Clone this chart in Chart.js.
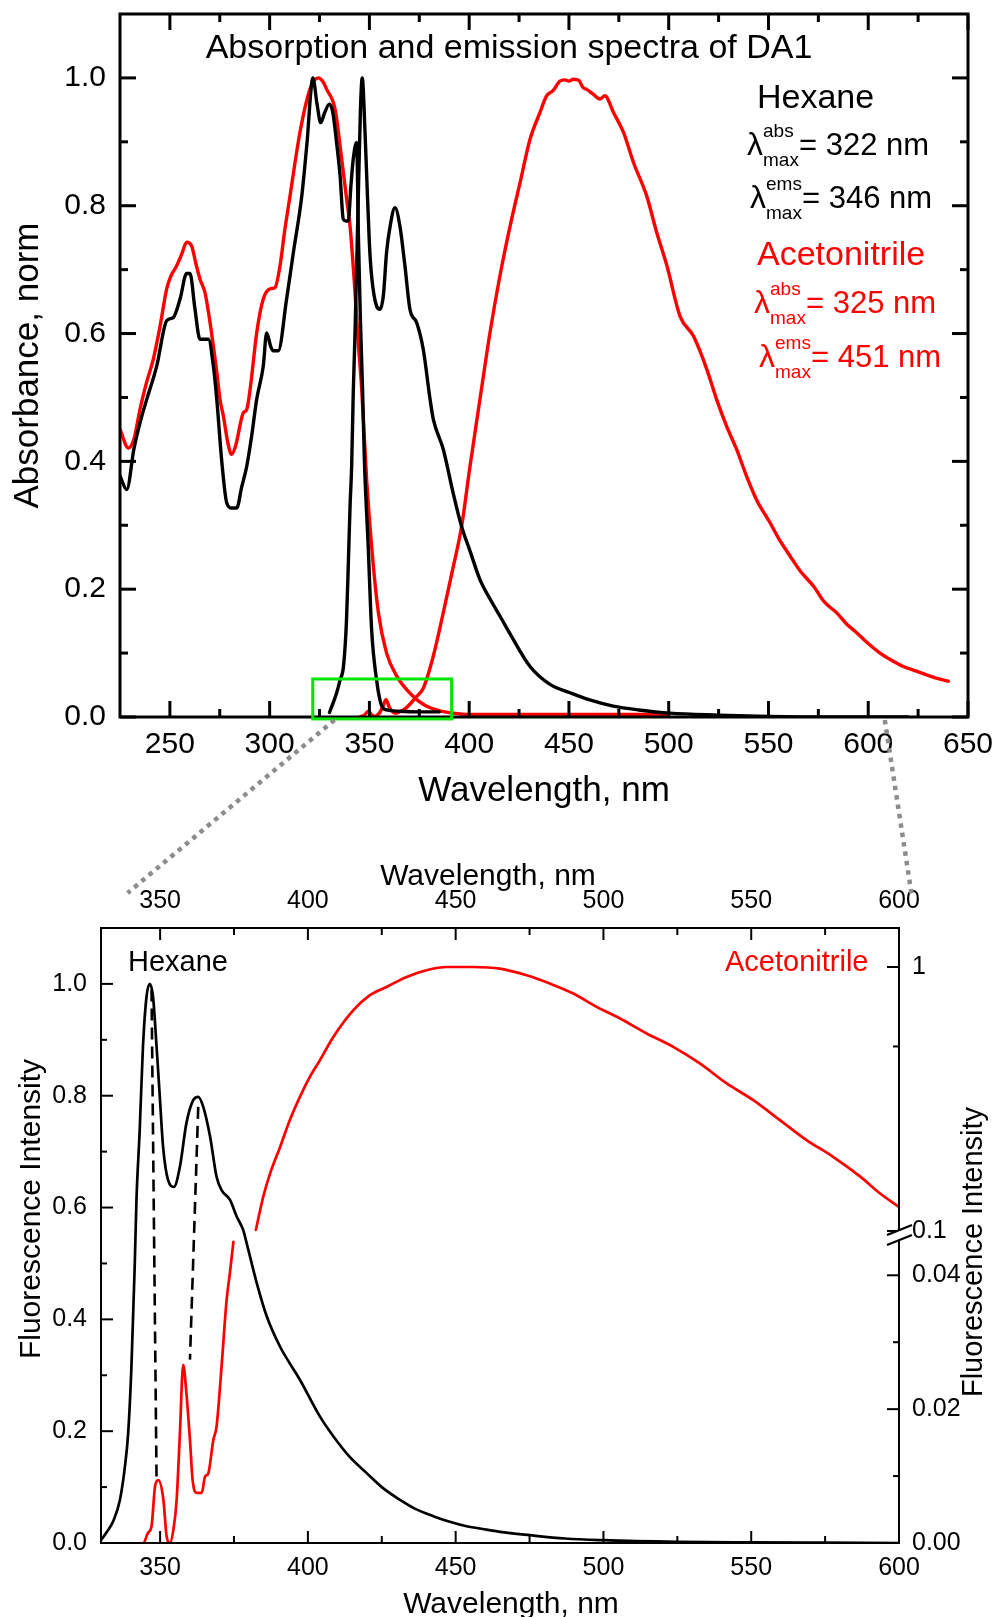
<!DOCTYPE html>
<html><head><meta charset="utf-8">
<script src="https://cdn.jsdelivr.net/npm/chart.js"></script>
<style>
html,body{margin:0;padding:0;background:#fff;}
body{position:relative;width:995px;height:1617px;overflow:hidden;}
canvas{position:absolute;left:0;}
#c1{top:0;}
#c2{top:830px;}
.t{position:absolute;white-space:nowrap;line-height:1;font-family:"Liberation Sans",Arial,sans-serif;}
#ov{position:absolute;left:0;top:0;}
</style></head><body>
<canvas id="c1" width="995" height="830"></canvas>
<canvas id="c2" width="995" height="800"></canvas>
<svg id="ov" width="995" height="1617"></svg>
<script>
// ---------------- DATA (top chart: absorption & emission) ----------------
const hexAbsNm = [225, 228.4, 232, 235, 238.4, 243.4, 248.4, 251.7, 255.1, 258.4, 260.1, 262.5, 265.1, 269.3, 271.8, 273.5, 276, 278.5, 281, 283.5, 286, 288.5, 291, 293.5, 296.8, 298.5, 300.5, 301.8, 304.3, 308.5, 311.9, 316.1, 318.6, 321.7, 323.7, 325.6, 327.5, 329.9, 331.6, 333.5, 335.3, 336.9, 338.2, 339.4, 340.7, 341.9, 343.6, 344.5, 345.5, 346.6, 347.5, 349.4, 351.1, 353.6, 356.2, 358.6, 365, 375, 385];
const hexAbsVal = [0.377, 0.356, 0.42, 0.46, 0.497, 0.549, 0.62, 0.625, 0.654, 0.694, 0.694, 0.64, 0.591, 0.591, 0.549, 0.497, 0.40, 0.335, 0.327, 0.327, 0.36, 0.392, 0.44, 0.497, 0.549, 0.601, 0.58, 0.573, 0.573, 0.654, 0.727, 0.815, 0.894, 1.0, 0.96, 0.93, 0.945, 0.959, 0.947, 0.90, 0.847, 0.779, 0.776, 0.776, 0.83, 0.873, 0.899, 0.75, 0.62, 0.508, 0.4, 0.267, 0.137, 0.058, 0.017, 0.011, 0.009, 0.008, 0.008];

const acnAbsNm = [225, 229.2, 232, 235, 238, 241.7, 245, 248.4, 250.5, 253.4, 256, 258.4, 260.9, 263, 265.1, 267.6, 270, 271.8, 273.5, 275.1, 276.8, 279, 280.9, 283, 286.8, 288.5, 290.5, 293.5, 296.8, 300.2, 302.7, 305.2, 307.5, 310.2, 315.2, 320.2, 324.4, 326.5, 328.6, 332.8, 336.1, 338.6, 340.3, 342.8, 344.4, 346.1, 348.6, 351.1, 354.5, 358.6, 363.7, 372, 378, 385, 392, 400, 450, 500];
const acnAbsVal = [0.45, 0.421, 0.435, 0.481, 0.52, 0.56, 0.61, 0.67, 0.69, 0.706, 0.725, 0.743, 0.737, 0.71, 0.685, 0.664, 0.62, 0.58, 0.54, 0.497, 0.471, 0.43, 0.411, 0.425, 0.476, 0.481, 0.52, 0.601, 0.654, 0.67, 0.672, 0.706, 0.76, 0.815, 0.915, 0.982, 1.0, 0.995, 0.982, 0.951, 0.873, 0.81, 0.768, 0.664, 0.586, 0.515, 0.372, 0.267, 0.163, 0.1, 0.064, 0.032, 0.018, 0.01, 0.006, 0.004, 0.004, 0.004];

const hexEmNm = [330, 333.6, 335.3, 337, 338.5, 339.4, 340.3, 341.1, 341.9, 342.8, 344.4, 345.5, 346.4, 347.8, 348.6, 350, 351.1, 353.6, 355.3, 357, 358.6, 360.5, 362.8, 365.3, 367.8, 370.3, 373.7, 377, 380.4, 382, 387, 392, 396.2, 400.4, 405.4, 410.4, 415.4, 420.5, 430.5, 440.5, 450.5, 460, 472.2, 485, 500.6, 525, 550, 580, 620];
const hexEmVal = [0.007, 0.038, 0.058, 0.079, 0.15, 0.236, 0.33, 0.392, 0.507, 0.601, 0.81, 0.95, 1.0, 0.915, 0.85, 0.74, 0.69, 0.643, 0.638, 0.66, 0.727, 0.77, 0.797, 0.768, 0.706, 0.638, 0.617, 0.575, 0.497, 0.466, 0.419, 0.35, 0.298, 0.26, 0.215, 0.185, 0.158, 0.13, 0.079, 0.051, 0.038, 0.027, 0.017, 0.011, 0.006, 0.003, 0.001, 0, 0];

const acnEmNm = [345.3, 347.5, 349.5, 351, 352.5, 355, 356.7, 358.3, 360, 362.8, 365, 367.5, 370.3, 373, 377, 382, 387, 392.1, 396.2, 400.4, 405.4, 410.4, 415.4, 420.5, 425.5, 430.5, 435.5, 438.8, 442, 445.5, 448, 450, 452.2, 455, 457, 458.9, 462, 465.6, 468, 472.3, 477.3, 482.3, 489, 494, 499.1, 505.7, 512.4, 519.1, 524, 529, 534, 539, 544, 550.8, 555, 560.8, 566, 572.5, 578, 584.2, 589, 594.2, 600, 605.9, 611, 617.6, 623, 629.3, 635, 640.1];
const acnEmVal = [0, 0.003, 0.009, 0.004, 0.001, 0.006, 0.016, 0.027, 0.015, 0.006, 0.008, 0.012, 0.02, 0.03, 0.045, 0.095, 0.163, 0.236, 0.298, 0.392, 0.497, 0.601, 0.69, 0.768, 0.836, 0.904, 0.946, 0.972, 0.98, 0.995, 0.997, 0.995, 0.998, 0.996, 0.985, 0.982, 0.975, 0.967, 0.972, 0.946, 0.915, 0.868, 0.815, 0.758, 0.706, 0.627, 0.596, 0.544, 0.497, 0.455, 0.419, 0.377, 0.34, 0.304, 0.28, 0.252, 0.228, 0.205, 0.18, 0.163, 0.146, 0.132, 0.115, 0.1, 0.09, 0.079, 0.073, 0.066, 0.06, 0.056];

// ---------------- DATA (bottom chart: fluorescence, zoom) ----------------
const hexFlNm = [330, 332, 334.2, 336.4, 338.1, 339.2, 340.3, 341.4, 342, 343.1, 344.2, 345.4, 346.5, 347.6, 348.8, 349.9, 351, 352.7, 354.7, 356.7, 358.9, 361.2, 362.9, 364.6, 366.9, 369.1, 370.8, 373.6, 375.9, 378.1, 379.3, 382.7, 386.1, 390.6, 397.3, 404.1, 408.6, 414, 419.9, 425, 431.2, 436, 442.4, 448, 453.7, 458.2, 465, 475.1, 487, 499.9, 525, 550, 575, 600];
const hexFlVal = [0.005, 0.02, 0.04, 0.077, 0.137, 0.197, 0.316, 0.494, 0.614, 0.739, 0.888, 0.977, 1.0, 0.977, 0.888, 0.798, 0.709, 0.649, 0.637, 0.673, 0.751, 0.792, 0.798, 0.78, 0.727, 0.655, 0.631, 0.614, 0.584, 0.56, 0.536, 0.465, 0.405, 0.351, 0.292, 0.226, 0.191, 0.155, 0.125, 0.1, 0.077, 0.062, 0.048, 0.038, 0.03, 0.026, 0.02, 0.014, 0.008, 0.005, 0.002, 0.001, 0.0005, 0];

const acnLowNm = [344.6, 345.9, 347.1, 348.3, 349.4, 351.1, 352.2, 353.3, 354.5, 355.6, 356.7, 357.8, 358.9, 360.1, 361, 362.4, 364.1, 365.2, 366.3, 368, 369.1, 370.8, 372.5, 373.6, 374.8];
const acnLowVal = [0, 0.0015, 0.0025, 0.0085, 0.0094, 0.0065, 0.001, 0, 0.002, 0.0065, 0.0164, 0.0266, 0.0224, 0.0154, 0.0094, 0.0075, 0.0075, 0.0099, 0.0104, 0.0154, 0.0174, 0.0264, 0.0363, 0.0403, 0.045];

const acnHighNm = [382.4, 384.9, 387.2, 390.6, 393.9, 397.3, 400.7, 404.1, 408.6, 415.4, 421, 426.6, 433.4, 440.1, 446.9, 455.9, 465, 474, 481.9, 489.8, 497.7, 505.6, 514.6, 523.6, 532.6, 541.7, 550.7, 559.7, 568.7, 577.7, 586.8, 593.5, 599.7];
const acnHighVal = [0.101, 0.135, 0.165, 0.208, 0.263, 0.322, 0.384, 0.444, 0.543, 0.686, 0.782, 0.84, 0.917, 0.972, 1.0, 1.0, 0.986, 0.93, 0.865, 0.793, 0.706, 0.638, 0.56, 0.498, 0.431, 0.362, 0.313, 0.263, 0.221, 0.191, 0.161, 0.139, 0.124];

const guide1Nm = [347.1, 348.8];  const guide1Val = [0.99, 0.113];
const guide2Nm = [362.9, 360.1];  const guide2Val = [0.78, 0.328];

// ---------------- TICKS ----------------
const topXTicks = [250, 300, 350, 400, 450, 500, 550, 600, 650];
const topXMinor = [275, 325, 375, 425, 475, 525, 575, 625];
const topYTicks = [0, 0.2, 0.4, 0.6, 0.8, 1.0];
const topYMinor = [0.1, 0.3, 0.5, 0.7, 0.9];
const botXTicks = [350, 400, 450, 500, 550, 600];
const botXMinor = [375, 425, 475, 525, 575];
const botYTicks = [0, 0.2, 0.4, 0.6, 0.8, 1.0];
const botYMinor = [0.1, 0.3, 0.5, 0.7, 0.9];
const lowYTicks = [0, 0.02, 0.04];
const lowYMinor = [0.01, 0.03];
const highYTicks = [0.1, 1];
const highYMinor = [0.5];

// zoom box (data coordinates on the top chart) and connector anchors
const zoomBox = {x1: 321.6, x2: 391.2, y1: 0.0595, y2: -0.003};
const connTop = [332.5, 608.3];
const connBottom = [339, 604.4];

// ---------------- SETUP ----------------
const FONT = "'Liberation Sans', Arial, sans-serif";
const RED = '#ff0000';
Chart.defaults.font.family = FONT;
Chart.defaults.color = '#000';

function pts(xs, ys){ return xs.map((x,i)=>({x:x, y:ys[i]})); }
function ds(xs, ys, color, w, extra){
  return Object.assign({data: pts(xs, ys), borderColor: color, borderWidth: w, pointRadius: 0,
    fill: false, tension: 0.4, cubicInterpolationMode: 'monotone', borderJoinStyle: 'round', borderCapStyle: 'round'}, extra || {});
}
function fit(w, h){ return function(s){ if (w != null) s.width = w; if (h != null) s.height = h;
  s.paddingLeft = 0; s.paddingRight = 0; s.paddingTop = 0; s.paddingBottom = 0; }; }
function setTicks(arr){ return function(s){ s.ticks = arr.map(v=>({value: v})); }; }

function framePlugin(id, lw, tickSpec, extra){
  return { id: id, afterDatasetsDraw(chart){
    const ctx = chart.ctx, a = chart.chartArea;
    ctx.save();
    ctx.strokeStyle = '#000'; ctx.lineWidth = lw; ctx.lineCap = 'butt';
    tickSpec.forEach(t=>{
      const s = chart.scales[t.scale];
      t.values.forEach(v=>{
        const p = s.getPixelForValue(v);
        t.sides.forEach(side=>{
          ctx.beginPath();
          if (side === 'bottom'){ ctx.moveTo(p, a.bottom); ctx.lineTo(p, a.bottom - t.len); }
          if (side === 'top'){ ctx.moveTo(p, a.top); ctx.lineTo(p, a.top + t.len); }
          if (side === 'left'){ ctx.moveTo(a.left, p); ctx.lineTo(a.left + t.len, p); }
          if (side === 'right'){ ctx.moveTo(a.right, p); ctx.lineTo(a.right - t.len, p); }
          ctx.stroke();
        });
      });
    });
    ctx.strokeRect(a.left, a.top, a.right - a.left, a.bottom - a.top);
    if (extra) extra(chart, ctx);
    ctx.restore();
  }};
}

// ---------------- TOP CHART ----------------
const frame1 = framePlugin('frame1', 3, [
  {scale:'x', values: topXTicks, sides:['bottom','top'], len:16},
  {scale:'x', values: topXMinor, sides:['bottom','top'], len:8},
  {scale:'y', values: topYTicks, sides:['left','right'], len:16},
  {scale:'y', values: topYMinor, sides:['left','right'], len:8}
], function(chart, ctx){
  const sx = chart.scales.x, sy = chart.scales.y;
  const x1 = sx.getPixelForValue(zoomBox.x1), x2 = sx.getPixelForValue(zoomBox.x2);
  const y1 = sy.getPixelForValue(zoomBox.y1), y2 = sy.getPixelForValue(zoomBox.y2);
  ctx.strokeStyle = '#00e600'; ctx.lineWidth = 3;
  ctx.strokeRect(x1, y1, x2 - x1, y2 - y1);
});

const chart1 = new Chart(document.getElementById('c1'), {
  type: 'line',
  data: { datasets: [
    ds(hexEmNm, hexEmVal, '#000', 3.4),
    ds(hexAbsNm, hexAbsVal, '#000', 3.4),
    ds(acnEmNm, acnEmVal, RED, 3.4),
    ds(acnAbsNm, acnAbsVal, RED, 3.4)
  ]},
  options: {
    responsive: false, animation: false, devicePixelRatio: 1,
    layout: { padding: {left: 0, right: 27, top: 14, bottom: 0}, autoPadding: false },
    plugins: { legend: {display: false}, tooltip: {enabled: false} },
    scales: {
      x: { type: 'linear', position: 'bottom', min: 225, max: 650,
        afterFit: fit(null, 113), afterBuildTicks: setTicks(topXTicks),
        grid: {display: false, drawTicks: false}, border: {display: false},
        ticks: {autoSkip: false, maxRotation: 0, padding: 10, color: '#000', font: {size: 30}, callback: v => String(v)},
        title: {display: true, text: 'Wavelength, nm', color: '#000', font: {size: 35}, padding: {top: 0, bottom: 18}} },
      y: { type: 'linear', position: 'left', min: 0, max: 1.1,
        afterFit: fit(120, null), afterBuildTicks: setTicks(topYTicks),
        grid: {display: false, drawTicks: false}, border: {display: false},
        ticks: {autoSkip: false, padding: 14, color: '#000', font: {size: 30}, callback: v => Number(v).toFixed(1)},
        title: {display: true, text: 'Absorbance, norm', color: '#000', font: {size: 35}, padding: {top: 7, bottom: 0}} }
    }
  },
  plugins: [frame1]
});

// ---------------- BOTTOM CHART ----------------
const frame2 = framePlugin('frame2', 2, [
  {scale:'x', values: botXTicks, sides:['bottom','top'], len:12},
  {scale:'x', values: botXMinor, sides:['bottom','top'], len:7},
  {scale:'y', values: botYTicks, sides:['left'], len:12},
  {scale:'y', values: botYMinor, sides:['left'], len:6},
  {scale:'yLow', values: lowYTicks, sides:['right'], len:12},
  {scale:'yLow', values: lowYMinor, sides:['right'], len:6},
  {scale:'yHigh', values: highYTicks, sides:['right'], len:12},
  {scale:'yHigh', values: highYMinor, sides:['right'], len:6}
], function(chart, ctx){
  const a = chart.chartArea;
  const b = chart.scales.yHigh.bottom;
  const ax = a.right;
  ctx.fillStyle = '#fff';
  ctx.fillRect(ax - 3, b - 6, 6, 10);
  ctx.strokeStyle = '#000'; ctx.lineWidth = 2.2;
  ctx.beginPath(); ctx.moveTo(ax - 12, b - 1); ctx.lineTo(ax + 13, b - 11); ctx.stroke();
  ctx.beginPath(); ctx.moveTo(ax - 12, b + 9); ctx.lineTo(ax + 13, b - 1); ctx.stroke();
});

const tickFont2 = {size: 25};
const chart2 = new Chart(document.getElementById('c2'), {
  type: 'line',
  data: { datasets: [
    ds(guide1Nm, guide1Val, '#000', 2.6, {borderDash: [12, 7], tension: 0, cubicInterpolationMode: 'default', borderCapStyle: 'butt'}),
    ds(guide2Nm, guide2Val, '#000', 2.6, {borderDash: [12, 7], tension: 0, cubicInterpolationMode: 'default', borderCapStyle: 'butt'}),
    ds(hexFlNm, hexFlVal, '#000', 2.7),
    ds(acnLowNm, acnLowVal, RED, 2.7, {yAxisID: 'yLow'}),
    ds(acnHighNm, acnHighVal, RED, 2.7, {yAxisID: 'yHigh'})
  ]},
  options: {
    responsive: false, animation: false, devicePixelRatio: 1,
    layout: { padding: 0, autoPadding: false },
    plugins: { legend: {display: false}, tooltip: {enabled: false} },
    scales: {
      x: { type: 'linear', position: 'bottom', min: 330, max: 600,
        afterFit: fit(null, 87), afterBuildTicks: setTicks(botXTicks),
        grid: {display: false, drawTicks: false}, border: {display: false},
        ticks: {autoSkip: false, maxRotation: 0, padding: 10, color: '#000', font: tickFont2, callback: v => String(v)} },
      x2: { type: 'linear', position: 'top', min: 330, max: 600,
        afterFit: fit(null, 98), afterBuildTicks: setTicks(botXTicks),
        grid: {display: false, drawTicks: false}, border: {display: false},
        ticks: {autoSkip: false, maxRotation: 0, padding: 12, color: '#000', font: tickFont2, callback: v => String(v)} },
      y: { type: 'linear', position: 'left', min: 0, max: 1.1,
        afterFit: fit(101, null), afterBuildTicks: setTicks(botYTicks),
        grid: {display: false, drawTicks: false}, border: {display: false},
        ticks: {autoSkip: false, padding: 14, color: '#000', font: tickFont2, callback: v => Number(v).toFixed(1)} },
      yHigh: { type: 'logarithmic', position: 'right', min: 0.0957, max: 1.405,
        stack: 'r', stackWeight: 308, weight: 1,
        afterFit: fit(96, null), afterBuildTicks: setTicks(highYTicks),
        grid: {display: false, drawTicks: false}, border: {display: false},
        ticks: {autoSkip: false, padding: 13, color: '#000', font: tickFont2, callback: v => String(v)} },
      yLow: { type: 'linear', position: 'right', min: 0, max: 0.04587,
        stack: 'r', stackWeight: 307, weight: 2,
        afterFit: fit(96, null), afterBuildTicks: setTicks(lowYTicks),
        grid: {display: false, drawTicks: false}, border: {display: false},
        ticks: {autoSkip: false, padding: 13, color: '#000', font: tickFont2, callback: v => Number(v).toFixed(2)} }
    }
  },
  plugins: [frame2]
});

// ---------------- TEXT OVERLAYS ----------------
function txt(s, x, base, size, color, align){
  const d = document.createElement('div'); d.className = 't'; d.textContent = s;
  d.style.fontSize = size + 'px'; d.style.color = color || '#000';
  d.style.top = (base - 0.8465 * size) + 'px'; d.style.left = x + 'px';
  if (align === 'center') d.style.transform = 'translateX(-50%)';
  document.body.appendChild(d);
}
function vtxt(s, cx, cy, size, color){
  const d = document.createElement('div'); d.className = 't'; d.textContent = s;
  d.style.fontSize = size + 'px'; d.style.color = color || '#000';
  d.style.left = cx + 'px'; d.style.top = cy + 'px';
  d.style.transform = 'translate(-50%,-50%) rotate(-90deg)';
  document.body.appendChild(d);
}
function lam(x, base, sup, rest, color, dx){
  txt('\u03bb', x, base, 32, color);
  txt(sup, x + 16 + (dx||0), base - 18, 19, color);
  txt('max', x + 16 + (dx||0), base + 11, 19, color);
  txt(rest, x + 52 + (dx||0), base, 31, color);
}
txt('Absorption and emission spectra of DA1', 509, 58, 34, '#000', 'center');
txt('Hexane', 757, 108, 34, '#000');
lam(747, 155, 'abs', '= 322 nm', '#000');
lam(750, 208, 'ems', '= 346 nm', '#000');
txt('Acetonitrile', 757, 265, 34, RED);
lam(754, 313, 'abs', '= 325 nm', RED);
lam(759, 367, 'ems', '= 451 nm', RED);

txt('Hexane', 128, 972, 29, '#000');
txt('Acetonitrile', 725, 972, 29, RED);
txt('Wavelength, nm', 488, 885, 30, '#000', 'center');
txt('Wavelength, nm', 511, 1613, 30, '#000', 'center');
vtxt('Fluorescence Intensity', 30, 1209, 30, '#000');
vtxt('Fluorescence Intensity', 972, 1252, 29, '#000');

// ---------------- CONNECTORS (dotted) ----------------
const ov = document.getElementById('ov');
const NS = 'http://www.w3.org/2000/svg';
function conn(x1, y1, x2, y2){
  const l = document.createElementNS(NS, 'line');
  l.setAttribute('x1', x1); l.setAttribute('y1', y1); l.setAttribute('x2', x2); l.setAttribute('y2', y2);
  l.setAttribute('stroke', '#8c8c8c'); l.setAttribute('stroke-width', '4.5'); l.setAttribute('stroke-dasharray', '4.5 5');
  ov.appendChild(l);
}
const c2top = 830;
const yStart = chart1.chartArea.bottom + 3;
conn(chart1.scales.x.getPixelForValue(connTop[0]), yStart, chart2.scales.x2.getPixelForValue(connBottom[0]), c2top + 63);
conn(chart1.scales.x.getPixelForValue(connTop[1]), yStart, chart2.scales.x2.getPixelForValue(connBottom[1]), c2top + 67);
</script>
</body></html>
